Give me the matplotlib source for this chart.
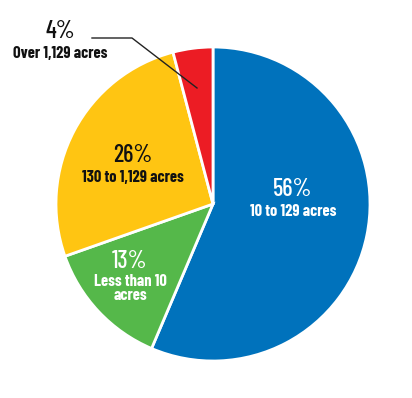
import matplotlib
matplotlib.use("Agg")
import matplotlib.pyplot as plt

categories = ["10 to 129 acres", "Less than 10\nacres", "130 to 1,129 acres", "Over 1,129 acres"]
values = [56.4, 13.2, 26.3, 4.1]
pct_labels = ["56%", "13%", "26%", "4%"]
colors = ["#0072BC", "#55B84A", "#FFC512", "#EC1C24"]
text_colors = ["white", "white", "#111111", "#111111"]

fam = ["Barlow Condensed", "DejaVu Sans"]

W, H = 412, 398
fig = plt.figure(figsize=(W / 100, H / 100), dpi=100)
ax = fig.add_axes([0, 0, 1, 1])
ax.set_xlim(0, W)
ax.set_ylim(0, H)
ax.set_aspect("equal")
ax.axis("off")

cx, cy, r = 213, H - 204, 157
ax.pie(values, colors=colors, startangle=90, counterclock=False,
       center=(cx, cy), radius=r,
       wedgeprops=dict(edgecolor="white", linewidth=2))
ax.set_xlim(0, W)
ax.set_ylim(0, H)

PCT_FS, LAB_FS = 17.5, 11.8
# inside labels (pixel coords from top)
pos = {0: (293, 189, 212), 1: (130, 261, 274), 2: (133, 156, 178)}
for i, (x, yp, yl) in pos.items():
    ax.text(x, H - yp, pct_labels[i], ha="center", va="center", fontsize=PCT_FS,
            fontweight=500, color=text_colors[i], family=fam)
    multi = "\n" in categories[i]
    ax.text(x, H - yl, categories[i], ha="center", va="top" if multi else "center",
            fontsize=LAB_FS, fontweight=700, color=text_colors[i], family=fam,
            linespacing=0.9)

# outside label for small slice
ax.plot([197, 132, 92], [H - 88, H - 38, H - 38], color="#222222", lw=1)
ax.text(60, H - 31, pct_labels[3], ha="center", va="center", fontsize=PCT_FS,
        fontweight=500, color="#111111", family=fam)
ax.text(60, H - 53, categories[3], ha="center", va="center", fontsize=LAB_FS,
        fontweight=700, color="#111111", family=fam)

fig.savefig("out.png", dpi=100)
